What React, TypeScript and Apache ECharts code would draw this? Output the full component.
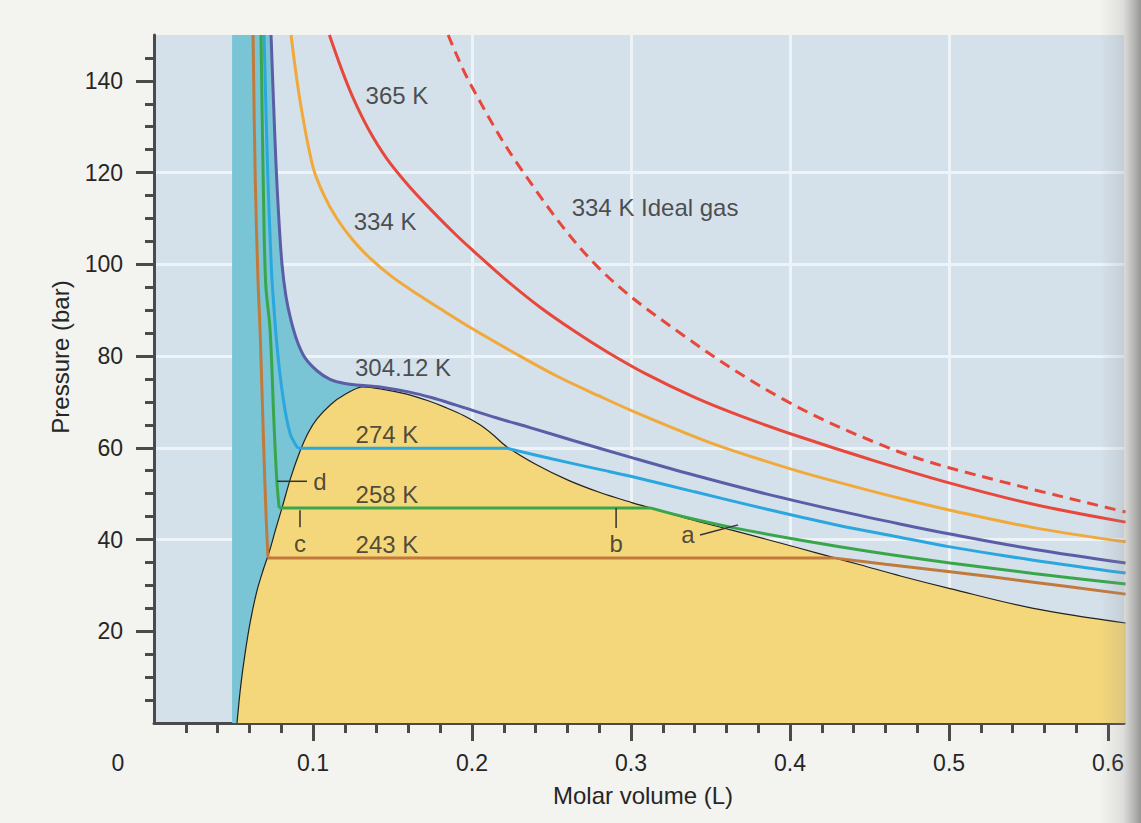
import React, { useEffect, useRef } from "react";
import * as echarts from "echarts";

const FONT = '"Liberation Sans", Arial, Helvetica, sans-serif';
const TEXT = "#262626";
const AXIS = "#4a4a4a";

// axis ranges and ticks
const X_MIN = 0;
const X_MAX = 0.61;
const Y_MIN = 0;
const Y_MAX = 150;
const X_LABELS = [0, 0.1, 0.2, 0.3, 0.4, 0.5, 0.6];
const X_MAJOR_TICKS = [0.1, 0.2, 0.3, 0.4, 0.5, 0.6];
const X_MINOR_TICKS = [
  0.02, 0.04, 0.06, 0.08, 0.12, 0.14, 0.16, 0.18, 0.22, 0.24, 0.26, 0.28,
  0.32, 0.34, 0.36, 0.38, 0.42, 0.44, 0.46, 0.48, 0.52, 0.54, 0.56, 0.58,
];
const Y_LABELS = [20, 40, 60, 80, 100, 120, 140];
const Y_MAJOR_TICKS = [20, 40, 60, 80, 100, 120, 140];
const Y_MINOR_TICKS = [
  5, 10, 15, 25, 30, 35, 45, 50, 55, 65, 70, 75, 85, 90, 95, 105, 110, 115,
  125, 130, 135, 145,
];

// left limit of the liquid (teal) region, L
const LIQUID_EDGE_V = 0.0491;

// coexistence dome [V (L), P (bar)]
const DOME = [
  [0.0522, 0], [0.0545, 8], [0.0572, 15], [0.0605, 22], [0.0645, 28.5],
  [0.0685, 33.2], [0.0722, 37.0], [0.0765, 42.2], [0.0805, 46.9], [0.086, 53.5],
  [0.092, 59.4], [0.097, 63.3], [0.1025, 66.3], [0.111, 69.4], [0.12, 71.6],
  [0.1315, 73.3], [0.145, 72.7], [0.159, 71.7], [0.172, 70.3], [0.184, 68.7],
  [0.195, 67.0], [0.205, 65.0], [0.213, 62.9], [0.222, 60.2], [0.24, 56.4],
  [0.26, 53.0], [0.28, 50.3], [0.301, 48.0], [0.312, 46.9], [0.335, 44.6],
  [0.364, 42.0], [0.406, 38.1], [0.427, 36.1], [0.444, 34.5], [0.47, 32.0],
  [0.5006, 29.3], [0.553, 25.0], [0.611, 21.8],
];

// isotherms [V (L), P (bar)]
const T365 = [
  [0.1103, 150], [0.118, 142.5], [0.1252, 136.3], [0.135, 129.4], [0.1465, 123.0],
  [0.16, 117.2], [0.175, 111.6], [0.19, 106.4], [0.2006, 103.0], [0.22, 97.0],
  [0.243, 90.6], [0.265, 85.3], [0.285, 80.9], [0.31, 76.0], [0.34, 71.0],
  [0.37, 66.8], [0.406, 62.4], [0.45, 57.5], [0.5006, 52.3], [0.553, 47.7],
  [0.611, 43.8],
];
const T334 = [
  [0.0862, 150], [0.0918, 135.8], [0.1, 121.2], [0.107, 115.0], [0.115, 110.0],
  [0.125, 105.3], [0.136, 101.3], [0.15, 97.2], [0.167, 93.2], [0.18, 90.3],
  [0.2, 86.0], [0.225, 81.0], [0.2535, 75.6], [0.28, 71.3], [0.301, 68.0],
  [0.343, 62.0], [0.364, 59.4], [0.406, 54.8], [0.44, 51.6], [0.469, 49.0],
  [0.5006, 46.4], [0.553, 42.6], [0.611, 39.5],
];
const IDEAL_334 = [
  [0.185, 150], [0.1987, 139.5], [0.23, 121.2], [0.2786, 99.6], [0.335, 84.0],
  [0.3956, 70.6], [0.4547, 61.0], [0.5006, 55.6], [0.611, 46.0],
];
const T304_12 = [
  [0.0736, 150], [0.0752, 135], [0.0767, 122], [0.0785, 110], [0.0805, 100],
  [0.083, 93], [0.086, 88], [0.09, 83.3], [0.095, 79.6], [0.1025, 76.8],
  [0.1107, 74.9], [0.12, 74.0], [0.1314, 73.6], [0.145, 73.1], [0.16, 72.2],
  [0.175, 70.9], [0.19, 69.3], [0.2157, 66.5], [0.2365, 64.4], [0.2635, 61.6],
  [0.301, 57.8], [0.34, 54.0], [0.3855, 49.9], [0.43, 46.3], [0.469, 43.4],
  [0.5006, 41.2], [0.553, 37.9], [0.611, 34.9],
];
const T274_LIQUID = [
  [0.0692, 150], [0.0715, 120], [0.0737, 100], [0.0745, 95], [0.0774, 82],
  [0.0811, 71.1], [0.0855, 63.2], [0.0905, 59.9],
];
const T274_PLATEAU = [[0.0905, 59.9], [0.222, 59.9]];
const T274_GAS = [
  [0.222, 59.9], [0.25, 57.6], [0.28, 55.3], [0.301, 53.7], [0.34, 50.4],
  [0.3855, 46.6], [0.43, 43.1], [0.469, 40.5], [0.5006, 38.4], [0.553, 35.5],
  [0.611, 32.7],
];
const T258_LIQUID = [
  [0.0673, 150], [0.0686, 120], [0.0702, 96], [0.073, 85.7], [0.0755, 65],
  [0.0772, 53], [0.0787, 46.9],
];
const T258_PLATEAU = [[0.0787, 46.9], [0.312, 46.9]];
const T258_GAS = [
  [0.312, 46.9], [0.335, 44.8], [0.364, 42.6], [0.406, 39.9], [0.45, 37.4],
  [0.5006, 34.9], [0.553, 32.6], [0.611, 30.3],
];
const T243_LIQUID = [
  [0.0623, 150], [0.0636, 120], [0.0654, 96.5], [0.0667, 85.7], [0.069, 60],
  [0.0705, 45], [0.0717, 36.0],
];
const T243_PLATEAU = [[0.0717, 36.0], [0.427, 36.0]];
const T243_GAS = [
  [0.427, 36.0], [0.46, 34.6], [0.5006, 33.0], [0.553, 30.7], [0.611, 28.1],
];

// annotation pointers
const POINTER_A = [[0.3434, 41.0], [0.3673, 43.2]];
const POINTER_B = [[0.2906, 46.9], [0.2906, 42.5]];
const POINTER_C = [[0.0918, 46.4], [0.0918, 42.7]];
const POINTER_D = [[0.0774, 52.7], [0.0962, 52.7]];

const CURVE_LABELS = [
  { text: "365 K", v: 0.1528, p: 136.8 },
  { text: "334 K", v: 0.1453, p: 109.4 },
  { text: "304.12 K", v: 0.1566, p: 77.6 },
  { text: "274 K", v: 0.1465, p: 63.0 },
  { text: "258 K", v: 0.1465, p: 49.9 },
  { text: "243 K", v: 0.1465, p: 39.0 },
  { text: "334 K Ideal gas", v: 0.3151, p: 112.5 },
  { text: "a", v: 0.3358, p: 41.0 },
  { text: "b", v: 0.2906, p: 39.2 },
  { text: "c", v: 0.0918, p: 39.2 },
  { text: "d", v: 0.1044, p: 52.7 },
];

const COLORS = {
  plotBg: "#d4e0ea",
  page: "#f3f3f0",
  grid: "#eef3f8",
  teal: "#79c4d5",
  yellow: "#f4d77a",
  dome: "#222222",
  t365: "#e8473b",
  t334: "#f0a93a",
  t304: "#5a5ea6",
  t274: "#2aa7de",
  t258: "#3aa64c",
  t243: "#c27a3c",
};

function curve(data: number[][], color: string, smooth: number | boolean = 0.35, dash?: number[]) {
  return {
    type: "line",
    data,
    symbol: "none",
    showSymbol: false,
    smooth,
    silent: true,
    z: 3,
    lineStyle: dash ? { color, width: 3, type: dash } : { color, width: 3 },
  };
}

function pointer(data: number[][]) {
  return {
    type: "line",
    data,
    symbol: "none",
    showSymbol: false,
    silent: true,
    z: 4,
    lineStyle: { color: "#333", width: 1.5 },
  };
}

export default function App() {
  const ref = useRef<HTMLDivElement>(null);

  useEffect(() => {
    if (!ref.current) return;
    const chart = echarts.init(ref.current, undefined, { renderer: "svg" });

    const tealBoundary = [
      [LIQUID_EDGE_V, Y_MAX],
      ...T304_12.filter(([v]) => v <= 0.1314),
    ];

    const option: any = {
      animation: false,
      backgroundColor: COLORS.page,
      grid: {
        left: 154,
        top: 35,
        width: 970,
        height: 688,
        show: true,
        backgroundColor: COLORS.plotBg,
        borderWidth: 0,
        containLabel: false,
        outerBoundsMode: "none",
      },
      xAxis: [
        {
          type: "value",
          min: X_MIN,
          max: X_MAX,
          interval: 0.1,
          position: "bottom",
          axisLine: { show: true, onZero: false, lineStyle: { color: AXIS, width: 3 } },
          axisTick: { show: true, customValues: X_MAJOR_TICKS, length: 18, lineStyle: { color: AXIS, width: 3 } },
          minorTick: { show: false },
          axisLabel: {
            show: true,
            customValues: X_LABELS,
            margin: 28,
            color: TEXT,
            fontSize: 23,
            fontFamily: FONT,
            formatter: (v: number) => (v === 0 ? "{z|0}" : String(v)),
            rich: { z: { color: TEXT, fontSize: 23, fontFamily: FONT, padding: [0, 72, 0, 0] } },
          },
          splitLine: { show: true, showMinLine: false, showMaxLine: false, lineStyle: { color: COLORS.grid, width: 3 } },
        },
        {
          type: "value",
          min: X_MIN,
          max: X_MAX,
          interval: 0.1,
          position: "bottom",
          axisLine: { show: false, onZero: false },
          axisTick: { show: true, customValues: X_MINOR_TICKS, length: 10, lineStyle: { color: AXIS, width: 3 } },
          axisLabel: { show: false },
          splitLine: { show: false },
        },
      ],
      yAxis: [
        {
          type: "value",
          min: Y_MIN,
          max: Y_MAX,
          interval: 20,
          position: "left",
          axisLine: { show: true, onZero: false, lineStyle: { color: AXIS, width: 3 } },
          axisTick: { show: true, customValues: Y_MAJOR_TICKS, length: 18, lineStyle: { color: AXIS, width: 3 } },
          minorTick: { show: false },
          axisLabel: {
            show: true,
            customValues: Y_LABELS,
            margin: 31,
            color: TEXT,
            fontSize: 23,
            fontFamily: FONT,
          },
          splitLine: { show: true, showMinLine: false, showMaxLine: false, lineStyle: { color: COLORS.grid, width: 3 } },
        },
        {
          type: "value",
          min: Y_MIN,
          max: Y_MAX,
          interval: 20,
          position: "left",
          axisLine: { show: false, onZero: false },
          axisTick: { show: true, customValues: Y_MINOR_TICKS, length: 9, lineStyle: { color: AXIS, width: 3 } },
          axisLabel: { show: false },
          splitLine: { show: false },
        },
      ],
      series: [
        {
          type: "line",
          data: tealBoundary,
          symbol: "none",
          showSymbol: false,
          smooth: 0.35,
          silent: true,
          z: 1,
          lineStyle: { opacity: 0, width: 0 },
          areaStyle: { color: COLORS.teal, opacity: 1, origin: "start" },
        },
        {
          type: "line",
          data: DOME,
          symbol: "none",
          showSymbol: false,
          smooth: 0.35,
          silent: true,
          z: 2,
          lineStyle: { color: COLORS.dome, width: 1.2 },
          areaStyle: { color: COLORS.yellow, opacity: 1, origin: "start" },
        },
        curve(IDEAL_334, COLORS.t365, 0.35, [11, 7]),
        curve(T365, COLORS.t365),
        curve(T334, COLORS.t334),
        curve(T304_12, COLORS.t304),
        curve(T274_LIQUID, COLORS.t274),
        curve(T274_PLATEAU, COLORS.t274, false),
        curve(T274_GAS, COLORS.t274),
        curve(T258_LIQUID, COLORS.t258),
        curve(T258_PLATEAU, COLORS.t258, false),
        curve(T258_GAS, COLORS.t258),
        curve(T243_LIQUID, COLORS.t243),
        curve(T243_PLATEAU, COLORS.t243, false),
        curve(T243_GAS, COLORS.t243),
        pointer(POINTER_A),
        pointer(POINTER_B),
        pointer(POINTER_C),
        pointer(POINTER_D),
        {
          type: "scatter",
          data: CURVE_LABELS.map((l) => ({ value: [l.v, l.p], name: l.text })),
          symbolSize: 1,
          silent: true,
          z: 5,
          itemStyle: { color: "rgba(0,0,0,0)" },
          label: {
            show: true,
            position: "inside",
            formatter: "{b}",
            color: TEXT,
            fontSize: 24,
            fontFamily: FONT,
          },
        },
      ],
      graphic: [
        {
          type: "text",
          x: 643,
          y: 795,
          z: 10,
          silent: true,
          style: {
            text: "Molar volume (L)",
            fill: TEXT,
            font: `24px ${FONT}`,
            textAlign: "center",
            textVerticalAlign: "middle",
            align: "center",
            verticalAlign: "middle",
          },
        },
        {
          type: "text",
          x: 60,
          y: 357,
          rotation: Math.PI / 2,
          z: 10,
          silent: true,
          style: {
            text: "Pressure (bar)",
            fill: TEXT,
            font: `24px ${FONT}`,
            textAlign: "center",
            textVerticalAlign: "middle",
            align: "center",
            verticalAlign: "middle",
          },
        },
        {
          type: "rect",
          z: 20,
          silent: true,
          shape: { x: 1100, y: 0, width: 41, height: 823 },
          style: {
            fill: new echarts.graphic.LinearGradient(0, 0, 1, 0, [
              { offset: 0, color: "rgba(140,140,140,0)" },
              { offset: 0.55, color: "rgba(140,140,140,0.2)" },
              { offset: 1, color: "rgba(110,110,110,0.7)" },
            ]),
          },
        },
      ],
    };

    chart.setOption(option);
    return () => chart.dispose();
  }, []);

  return (
    <div
      ref={ref}
      style={{ position: "absolute", left: 0, top: 0, width: 1141, height: 823 }}
    />
  );
}
